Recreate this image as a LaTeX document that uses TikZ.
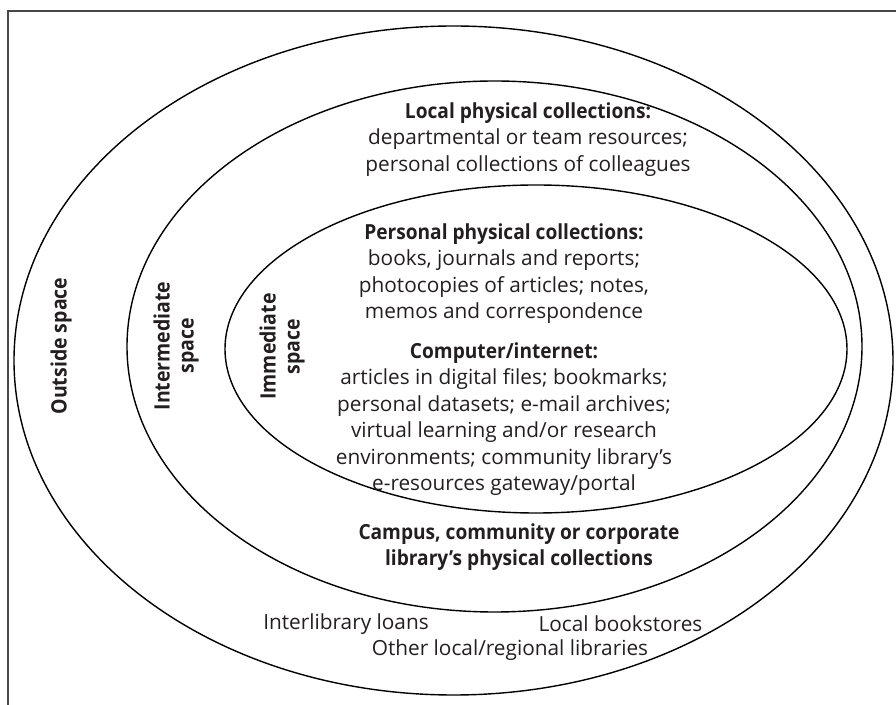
\documentclass[tikz,border=0pt]{standalone}
\usepackage{fontspec}
\setmainfont{Open Sans}[BoldFeatures={FakeStretch=0.92}]
\definecolor{Text_grey}{RGB}{35, 31, 32}
\definecolor{Frame_grey}{RGB}{72, 72, 72}

\begin{document}
\begin{tikzpicture}[x=0.5pt, y=-0.5pt,
    body_text/.style={align=center, text=Text_grey, inner sep=0pt,
        font=\fontsize{10.4}{13.25}\selectfont},
    space_text/.style={body_text, rotate=90,
        font=\fontsize{10.6}{12}\selectfont\bfseries}]
    \useasboundingbox (0,0) rectangle (896,705);

    %% Frame
    \draw[line width=1pt, Frame_grey] (896,11) -- (8,11) -- (8,705);

    %% Spaces
    \draw[line width=0.7pt] (453.5,360.5) ellipse (439.5 and 334.5);  % outside
    \draw[line width=0.7pt] (494.5,346.5) ellipse (367.5 and 265.5);  % intermediate
    \draw[line width=0.7pt] (536,349) ellipse (311 and 164);          % immediate

    % side labels
    \node[space_text] (outside) at (61,346) {Outside space};
    \node[space_text] (intermediate) at (176,346) {Intermediate\\space};
    \node[space_text] (immediate) at (282,346.5) {Immediate\\space};

    %% Collections
    \node[body_text] (local) at (528,139.5)
        {\textbf{Local physical collections:}\\
         departmental or team resources;\\
         personal collections of colleagues};
    \node[body_text] (personal) at (504,273.75)
        {\textbf{Personal physical collections:}\\
         books, journals and reports;\\
         photocopies of articles; notes,\\
         memos and correspondence};
    \node[body_text] (computer) at (504,419)
        {\textbf{Computer/internet:}\\
         articles in digital files; bookmarks;\\
         personal datasets; e-mail archives;\\
         virtual learning and/or research\\
         environments; community library’s\\
         e-resources gateway/portal};
    \node[body_text, font=\fontsize{10.4}{13.25}\selectfont\bfseries] (campus) at (519,547)
        {Campus, community or corporate\\
         library’s physical collections};

    % outside sources
    \node[body_text] (loans) at (346,624) {Interlibrary loans};
    \node[body_text] (stores) at (620.5,624) {Local bookstores};
    \node[body_text] (regional) at (510,650) {Other local/regional libraries};
\end{tikzpicture}
\end{document}
